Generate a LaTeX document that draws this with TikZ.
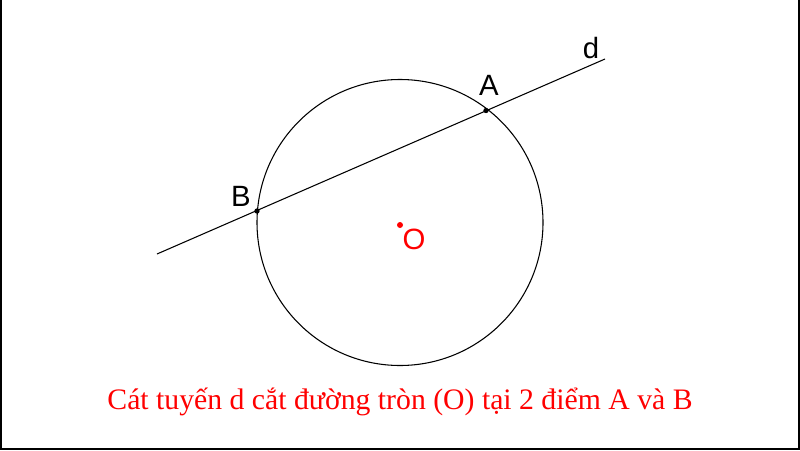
\documentclass[tikz,border=0pt]{standalone}
\usepackage{fontspec}
\setmainfont{Liberation Serif}
\newfontfamily\labelfont{Liberation Sans}
\begin{document}
\begin{tikzpicture}[x=0.75pt,y=-0.75pt,
  thinline/.style={line width=0.8pt,black},
  ptlabel/.style={font=\labelfont\fontsize{22}{26}\selectfont,inner sep=0pt},
  ptdot/.style={circle,fill=black,inner sep=0pt,minimum size=4pt}]
\useasboundingbox (0,0) rectangle (800,450);
\fill[white] (0,0) rectangle (800,450);
\draw[line width=1.6pt] (0.8,0) -- (0.8,449.2) -- (799.2,449.2) -- (799.2,0);
\coordinate (O) at (400,222.5);
\coordinate (P) at (157,254);
\coordinate (Q) at (605,59);
\draw[thinline] (O) circle[radius=143];
\draw[thinline] (P) -- (Q);
\node[ptdot] (A) at (486,110.5) {};
\node[ptdot] (B) at (257,211) {};
\node[circle,fill=red,inner sep=0pt,minimum size=4.5pt] (Od) at (400,225) {};
\node[ptlabel] (Al) at (489,85) {A};
\node[ptlabel] (Bl) at (241,196) {B};
\node[ptlabel] (dl) at (591,48) {d};
\node[ptlabel,text=red] (Ol) at (414,239) {O};
\node[text=red,font=\fontsize{22.3}{27}\selectfont,inner sep=0pt] (cap) at (400,402) {Cát tuyến d cắt đường tròn (O) tại 2 điểm A và B};
\end{tikzpicture}
\end{document}
